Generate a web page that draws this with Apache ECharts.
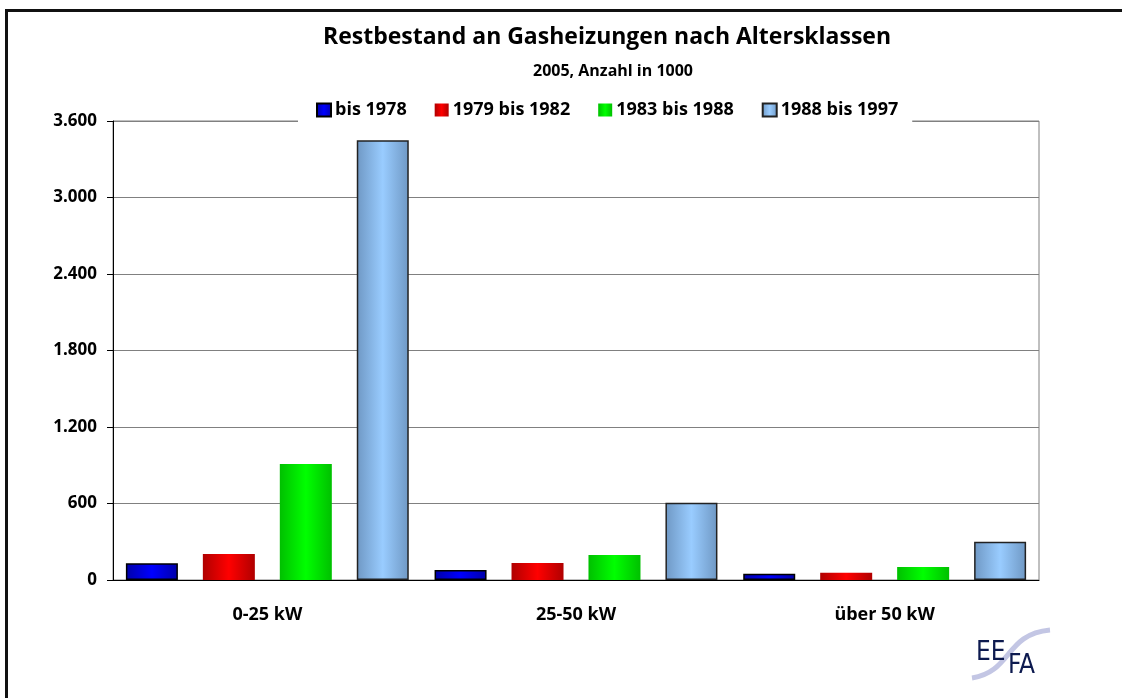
<!DOCTYPE html>
<html>
<head>
<meta charset="utf-8">
<script src="https://cdn.jsdelivr.net/npm/echarts@6/dist/echarts.min.js"></script>
<style>
  html, body { margin: 0; padding: 0; background: #fff; }
  #chart { width: 1122px; height: 698px; }
</style>
</head>
<body>
<div id="chart"></div>
<script>
// Daten (Anzahl in 1000)
const categories = ['0-25 kW', '25-50 kW', 'über 50 kW'];
const seriesNames = ['bis 1978', '1979 bis 1982', '1983 bis 1988', '1988 bis 1997'];
const bis1978 = [131, 78, 49];
const bis1982 = [204, 133, 57];
const bis1988 = [910, 196, 102];
const bis1997 = [3450, 605, 300];
const yTicks = [0, 600, 1200, 1800, 2400, 3000, 3600];

const myChart = echarts.init(document.getElementById('chart'));
const font = '"Open Sans", Lato, sans-serif';

function grad(dark, bright) {
  return new echarts.graphic.LinearGradient(0, 0, 1, 0, [
    { offset: 0, color: dark },
    { offset: 0.5, color: bright },
    { offset: 1, color: dark }
  ]);
}

const styles = [
  { color: grad('#0000a8', '#0000ff'), borderColor: '#000', borderWidth: 1.5 },
  { color: grad('#b00000', '#ff0000'), borderWidth: 0 },
  { color: grad('#00c000', '#00ff00'), borderWidth: 0 },
  { color: grad('#6f98c4', '#99ccff'), borderColor: '#222', borderWidth: 1.5 }
];
const values = [bis1978, bis1982, bis1988, bis1997];

let option = {
  animation: false,
  backgroundColor: '#fff',
  title: [
    {
      text: 'Restbestand an Gasheizungen nach Altersklassen',
      left: 602, top: 21, textAlign: 'center',
      textStyle: { fontFamily: font, fontWeight: 'bold', fontSize: 23, color: '#000' }
    },
    {
      text: '2005, Anzahl in 1000',
      left: 608, top: 58, textAlign: 'center',
      textStyle: { fontFamily: font, fontWeight: 'bold', fontSize: 16, color: '#000' }
    }
  ],
  legend: {
    data: seriesNames,
    left: 298, top: 97,
    padding: [4, 14, 4, 18],
    backgroundColor: '#fff',
    itemWidth: 14, itemHeight: 13, itemGap: 28,
    icon: 'rect',
    textStyle: { fontFamily: font, fontWeight: 'bold', fontSize: 18, color: '#000', padding: [0, 0, 0, -1] }
  },
  grid: {
    left: 113, right: 83, top: 121, bottom: 118,
    show: true, borderColor: '#808080', borderWidth: 1
  },
  xAxis: {
    type: 'category',
    data: categories,
    axisLine: { lineStyle: { color: '#000', width: 1 } },
    axisTick: { length: 6, lineStyle: { color: '#000' } },
    axisLabel: { fontFamily: font, fontWeight: 'bold', fontSize: 18, color: '#000', margin: 26 }
  },
  yAxis: {
    type: 'value',
    min: yTicks[0], max: yTicks[yTicks.length - 1], interval: 600,
    axisLine: { show: true, lineStyle: { color: '#000', width: 1 } },
    axisTick: { show: true, length: 6, lineStyle: { color: '#000' } },
    axisLabel: {
      fontFamily: font, fontWeight: 'bold', fontSize: 17, color: '#000', margin: 16,
      formatter: v => String(v).replace(/\B(?=(\d{3})+(?!\d))/g, '.')
    },
    splitLine: { lineStyle: { color: '#808080', width: 1 } }
  },
  series: seriesNames.map((name, i) => ({
    name: name,
    type: 'bar',
    barWidth: 52,
    barGap: '48%',
    itemStyle: styles[i],
    data: values[i]
  })),
  graphic: [
    // Rahmen
    { type: 'line', shape: { x1: 6.5, y1: 9, x2: 6.5, y2: 698 }, style: { stroke: '#111', lineWidth: 3 } },
    { type: 'line', shape: { x1: 5, y1: 10.5, x2: 1122, y2: 10.5 }, style: { stroke: '#111', lineWidth: 3 } },
    // EEFA Logo
    {
      type: 'bezierCurve',
      shape: { x1: 972, y1: 678, x2: 1050, y2: 630, cpx1: 1012, cpy1: 672, cpx2: 1005, cpy2: 634 },
      style: { stroke: '#c3c6e4', lineWidth: 5, fill: null }
    },
    { type: 'text', left: 976, top: 640, style: { text: 'EE', font: '26px "DejaVu Sans Condensed", "DejaVu Sans"', fill: '#0d1a4f' } },
    { type: 'text', left: 1008, top: 653, style: { text: 'FA', font: '26px "DejaVu Sans Condensed", "DejaVu Sans"', fill: '#0d1a4f' } }
  ]
};
myChart.setOption(option);
</script>
</body>
</html>
